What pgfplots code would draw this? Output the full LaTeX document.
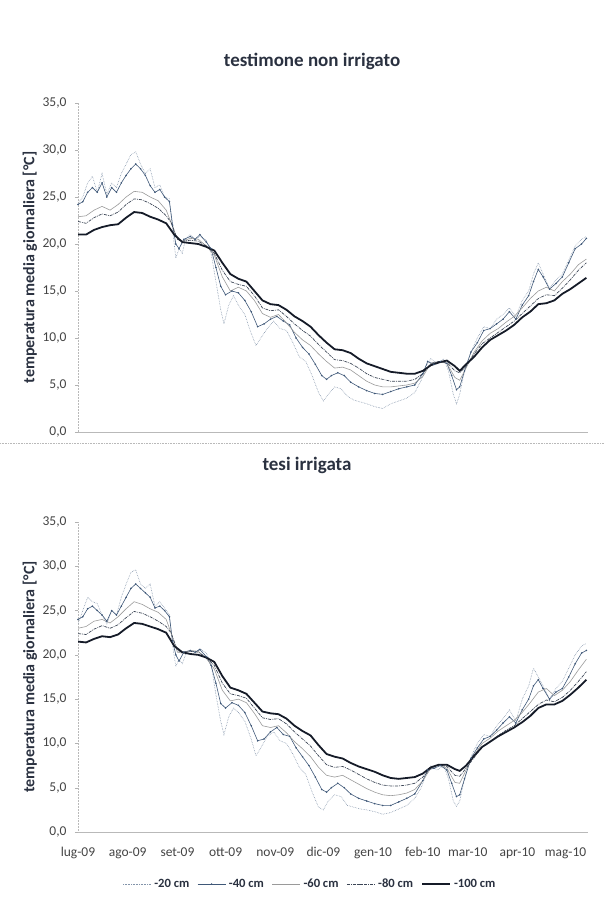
\documentclass[border=0pt]{standalone}
\usepackage{fontspec}
\setmainfont{Carlito}
\usepackage{pgfplots}
\usepackage{pgfplotstable}
\pgfplotsset{compat=1.18}
\definecolor{cA}{HTML}{8394AA}
\definecolor{cB}{HTML}{3F5878}
\definecolor{cC}{HTML}{9A9A9A}
\definecolor{cD}{HTML}{3C4656}
\definecolor{cE}{HTML}{151B28}
\definecolor{txt}{HTML}{2A3140}
\definecolor{tick}{HTML}{444444}

% ---------- testimone non irrigato ----------
\pgfplotstableread{
d v
0 24.3
3 25.0
6 26.5
9 27.2
12 25.5
15 27.5
18 25.3
21 26.5
24 26.0
27 27.5
30 28.5
33 29.5
36 29.8
39 28.5
42 27.5
45 28.0
48 26.0
51 26.3
54 25.0
57 24.8
59 21.5
61 18.5
63 19.5
65 19.0
67 20.5
70 21.0
73 20.5
76 20.8
80 20.4
83 19.0
86 16.0
89 13.0
91 11.5
94 13.5
97 14.5
100 13.5
104 12.5
108 10.5
111 9.2
114 10.0
118 11.0
122 11.8
126 11.0
130 10.8
134 9.5
138 8.0
142 7.5
146 6.0
150 4.2
153 3.3
156 4.0
160 4.8
164 4.6
168 3.8
172 3.4
176 3.2
180 3.0
185 2.7
190 2.5
195 3.0
200 3.3
205 3.6
210 4.2
214 5.5
217 7.0
220 7.8
224 7.2
228 7.8
231 6.5
234 4.0
236 3.0
238 4.0
241 6.5
245 8.5
249 10.0
253 11.2
257 11.0
261 12.0
265 12.5
269 13.2
273 12.3
277 14.0
281 15.0
284 16.8
287 18.0
290 16.8
294 15.3
298 16.2
302 16.8
306 18.3
310 19.8
314 20.5
317 20.8
}\tA
\pgfplotstableread{
d v
0 24.2
3 24.5
6 25.5
9 26.0
12 25.5
15 26.5
18 25.0
21 26.0
24 25.5
27 26.5
30 27.3
33 28.0
36 28.5
39 28.0
42 27.3
45 26.2
48 25.5
51 25.8
54 25.0
57 24.5
59 22.0
61 20.0
63 19.5
66 20.5
70 20.8
73 20.5
76 21.0
80 20.2
83 19.5
86 17.5
89 15.5
92 14.6
96 15.0
100 14.8
104 14.0
108 12.8
112 11.2
116 11.5
120 12.0
124 12.3
128 11.8
132 11.4
136 10.0
140 9.0
144 8.3
148 7.2
152 6.0
155 5.6
158 6.0
162 6.3
166 6.0
170 5.3
175 4.8
180 4.4
185 4.1
190 4.0
195 4.3
200 4.6
205 4.8
210 5.0
215 6.2
218 7.5
222 7.2
226 7.5
230 7.3
233 6.0
236 4.5
238 4.8
241 6.5
245 8.5
249 9.5
253 10.8
257 11.0
261 11.5
265 12.0
269 12.8
273 12.0
277 13.5
281 14.5
284 16.0
287 17.3
290 16.5
294 15.2
298 15.8
302 16.5
306 18.0
310 19.5
314 20.0
317 20.6
}\tB
\pgfplotstableread{
d v
0 22.9
5 23.0
10 23.6
15 24.0
20 23.6
25 24.2
30 25.0
35 25.6
40 25.5
45 25.0
50 24.6
55 23.6
58 22.3
62 20.5
65 20.3
70 20.6
75 20.5
80 19.8
85 18.8
90 16.5
95 15.0
100 15.4
105 15.0
110 14.0
115 12.6
120 12.2
125 12.5
130 11.6
135 10.6
140 9.8
145 9.2
150 8.3
155 7.5
160 6.8
165 6.9
170 6.6
175 6.0
180 5.4
185 5.0
190 4.8
195 4.8
200 4.9
205 5.0
210 5.2
215 5.9
220 7.3
225 7.5
230 7.3
235 5.8
238 5.5
242 6.8
247 8.5
252 9.7
257 10.5
262 11.0
267 11.7
272 12.3
277 13.2
282 14.2
287 15.0
292 15.4
297 15.0
302 16.0
307 16.8
312 17.8
317 18.4
}\tC
\pgfplotstableread{
d v
0 22.4
5 22.2
10 22.8
15 23.2
20 23.0
25 23.4
30 24.2
35 24.8
40 24.7
45 24.3
50 23.8
55 23.0
58 22.3
62 20.5
65 20.3
70 20.4
75 20.3
80 19.8
85 19.0
90 17.2
95 16.0
100 15.7
105 15.5
110 14.5
115 13.2
120 12.9
125 13.0
130 12.3
135 11.5
140 10.8
145 10.2
150 9.3
155 8.5
160 7.7
165 7.6
170 7.3
175 6.8
180 6.2
185 5.8
190 5.6
195 5.4
200 5.4
205 5.4
210 5.6
215 6.2
220 7.3
225 7.5
230 7.4
235 6.5
238 6.3
242 7.0
247 8.3
252 9.4
257 10.0
262 10.6
267 11.2
272 11.8
277 12.6
282 13.4
287 14.2
292 14.6
297 14.5
302 15.3
307 16.2
312 17.2
317 18.0
}\tD
\pgfplotstableread{
d v
0 21.0
5 21.0
10 21.5
15 21.8
20 22.0
25 22.1
30 22.8
35 23.4
40 23.3
45 22.9
50 22.6
55 22.2
60 21.0
65 20.2
70 20.1
75 20.0
80 19.7
85 19.3
90 18.0
95 16.8
100 16.3
105 16.0
110 15.0
115 14.0
120 13.6
125 13.5
130 13.0
135 12.3
140 11.8
145 11.2
150 10.3
155 9.5
160 8.8
165 8.7
170 8.4
175 7.8
180 7.3
185 7.0
190 6.7
195 6.4
200 6.3
205 6.2
210 6.2
215 6.5
220 7.1
225 7.4
230 7.6
235 7.0
238 6.5
242 7.2
247 8.0
252 9.0
257 9.8
262 10.3
267 10.8
272 11.4
277 12.2
282 12.8
287 13.6
292 13.7
297 14.0
302 14.7
307 15.2
312 15.8
317 16.4
}\tE

% ---------- tesi irrigata ----------
\pgfplotstableread{
d v
0 23.5
3 25.0
6 26.5
9 26.0
12 25.8
15 24.5
18 23.5
21 25.0
24 24.5
27 26.5
30 28.0
33 29.3
36 29.6
39 28.0
42 27.5
45 28.0
48 25.5
51 26.0
54 25.3
57 24.5
59 21.0
61 18.7
63 19.5
65 19.0
67 20.0
70 20.5
73 20.3
76 20.7
80 20.2
83 19.0
86 15.5
89 12.5
91 11.0
94 13.0
97 14.0
100 13.5
104 12.5
108 10.5
111 8.6
114 9.5
118 10.8
122 11.3
126 10.3
130 10.0
134 8.8
138 7.3
142 6.5
146 4.5
150 2.8
153 2.5
156 3.5
160 4.2
164 4.0
168 3.0
172 2.8
176 2.6
180 2.5
185 2.3
190 2.0
195 2.2
200 2.6
205 3.0
210 3.8
214 5.0
217 6.5
220 7.5
224 7.0
228 7.5
231 6.0
234 3.5
236 2.9
238 3.5
241 6.0
245 8.5
249 10.0
253 11.0
257 10.8
261 12.0
265 12.8
269 13.8
273 12.5
277 15.0
281 16.5
284 18.5
287 17.5
290 16.5
294 15.0
298 16.2
302 17.0
306 18.5
310 20.0
314 21.0
317 21.3
}\uA
\pgfplotstableread{
d v
0 24.0
3 24.3
6 25.2
9 25.5
12 25.0
15 24.5
18 23.8
21 25.0
24 24.5
27 25.5
30 26.5
33 27.5
36 28.0
39 27.5
42 27.0
45 26.5
48 25.3
51 25.5
54 25.0
57 24.3
59 21.5
61 20.0
63 19.3
66 20.3
70 20.5
73 20.3
76 20.6
80 19.8
83 18.8
86 16.8
89 14.5
92 14.0
96 14.6
100 14.3
104 13.5
108 12.0
112 10.3
116 10.5
120 11.3
124 11.8
128 11.0
132 10.8
136 9.5
140 8.5
144 7.5
148 6.2
152 4.8
155 4.5
158 5.0
162 5.5
166 5.0
170 4.3
175 3.8
180 3.5
185 3.2
190 3.0
195 3.0
200 3.4
205 3.8
210 4.3
215 5.8
218 7.0
222 7.2
226 7.5
230 7.0
233 5.5
236 4.0
238 4.2
241 6.0
245 8.3
249 9.5
253 10.5
257 10.8
261 11.5
265 12.3
269 13.0
273 12.3
277 13.8
281 15.0
284 16.5
287 17.2
290 16.2
294 15.0
298 15.8
302 16.2
306 17.5
310 19.0
314 20.2
317 20.5
}\uB
\pgfplotstableread{
d v
0 23.0
5 23.2
10 23.8
15 24.0
20 23.6
25 24.3
30 25.2
35 26.0
40 25.7
45 25.2
50 24.8
55 24.0
58 22.5
62 20.3
65 20.2
70 20.5
75 20.4
80 19.6
85 18.4
90 16.0
95 14.8
100 15.0
105 14.6
110 13.4
115 12.0
120 11.8
125 12.0
130 11.2
135 10.2
140 9.4
145 8.5
150 7.3
155 6.4
160 6.2
165 6.4
170 5.9
175 5.4
180 4.9
185 4.5
190 4.2
195 4.1
200 4.2
205 4.4
210 4.8
215 5.8
220 7.2
225 7.6
230 7.2
235 5.6
238 5.5
242 7.0
247 8.7
252 10.0
257 10.6
262 11.4
267 12.0
272 12.6
277 13.5
282 14.6
287 15.8
292 16.2
297 15.4
302 16.0
307 17.0
312 18.3
317 19.5
}\uC
\pgfplotstableread{
d v
0 22.4
5 22.3
10 22.9
15 23.3
20 23.0
25 23.4
30 24.2
35 24.9
40 24.7
45 24.3
50 23.8
55 23.2
58 22.5
62 20.5
65 20.3
70 20.4
75 20.3
80 19.7
85 18.8
90 16.8
95 15.6
100 15.4
105 15.1
110 14.0
115 12.9
120 12.7
125 12.8
130 12.2
135 11.3
140 10.5
145 9.7
150 8.6
155 7.6
160 7.3
165 7.4
170 7.0
175 6.5
180 6.0
185 5.6
190 5.3
195 5.2
200 5.2
205 5.3
210 5.5
215 6.2
220 7.2
225 7.6
230 7.4
235 6.4
238 6.3
242 7.2
247 8.4
252 9.6
257 10.2
262 10.9
267 11.5
272 12.0
277 12.8
282 13.6
287 14.4
292 14.9
297 14.7
302 15.2
307 16.0
312 17.0
317 18.1
}\uD
\pgfplotstableread{
d v
0 21.5
5 21.4
10 21.8
15 22.1
20 22.0
25 22.3
30 23.0
35 23.6
40 23.5
45 23.2
50 22.9
55 22.5
60 21.0
65 20.3
70 20.1
75 20.0
80 19.7
85 19.2
90 17.6
95 16.3
100 16.0
105 15.6
110 14.6
115 13.6
120 13.4
125 13.3
130 12.8
135 12.0
140 11.4
145 10.9
150 9.8
155 8.8
160 8.5
165 8.3
170 7.8
175 7.4
180 7.1
185 6.8
190 6.4
195 6.1
200 6.0
205 6.1
210 6.2
215 6.6
220 7.3
225 7.6
230 7.6
235 7.1
238 6.9
242 7.5
247 8.6
252 9.6
257 10.2
262 10.8
267 11.3
272 11.8
277 12.4
282 13.1
287 14.0
292 14.4
297 14.4
302 14.8
307 15.5
312 16.3
317 17.2
}\uE

\pgfplotsset{
  base/.style={
    scale only axis,
    width=510pt,
    xmin=0, xmax=318, ymin=0, ymax=35,
    axis x line=bottom, axis y line=left,
    axis line style={draw=gray!55, line width=0.5pt, -},
    y axis line style={densely dotted},
    ytick={0,5,...,35},
    yticklabel style={xshift=-5pt, /pgf/number format/fixed, /pgf/number format/fixed zerofill, /pgf/number format/precision=1, /pgf/number format/use comma},
    /pgf/number format/assume math mode=true,
    ytick style={draw=gray!60},
    xtick style={draw=none},
    tick align=outside,
    major tick length=3pt,
    tick label style={font=\fontsize{13.5}{16}\selectfont, text=tick},
    xticklabel style={yshift=-9pt},
    ylabel={temperatura media giornaliera [°C]},
    ylabel style={at={(rel axis cs:0,0.5)}, anchor=center, yshift=48pt, font=\bfseries\fontsize{16}{19}\selectfont, text=txt},
    title style={font=\bfseries\fontsize{19}{23}\selectfont, text=txt, anchor=center},
    legend image code/.code={\draw[mark repeat=2,mark phase=2,##1] plot coordinates {(0pt,0pt) (14pt,0pt) (28pt,0pt)};},
  },
  sA/.style={cA, line width=0.6pt, densely dotted},
  sB/.style={cB, line width=0.6pt, mark=*, mark size=0.45pt, mark options={solid}},
  sC/.style={cC, line width=0.6pt},
  sD/.style={cD, line width=0.7pt, dash pattern=on 3pt off 1pt on 0.8pt off 1pt},
  sE/.style={cE, line width=1.8pt},
}

\begin{document}
\begin{tikzpicture}
\useasboundingbox (0,0) rectangle (605pt,911pt);
\draw[gray!55, densely dotted, line width=0.6pt] (0pt,468pt) -- (605pt,468pt);

\begin{axis}[base, at={(78pt,479pt)}, anchor=south west, height=329pt,
  xtick={0,31,62,92,123,153,184,215,243,274,304}, xticklabels={},
  title={testimone non irrigato},
  title style={at={(0.459,1)}, yshift=36pt}]
\addplot[sA] table[x=d,y=v]{\tA};
\addplot[sB] table[x=d,y=v]{\tB};
\addplot[sC] table[x=d,y=v]{\tC};
\addplot[sD] table[x=d,y=v]{\tD};
\addplot[sE] table[x=d,y=v]{\tE};
\end{axis}

\begin{axis}[base, at={(78pt,79pt)}, anchor=south west, height=310pt,
  xtick={0,31,62,92,123,153,184,215,243,274,304},
  xticklabels={lug-09,ago-09,set-09,ott-09,nov-09,dic-09,gen-10,feb-10,mar-10,apr-10,mag-10},
  title={tesi irrigata},
  title style={at={(0.449,1)}, yshift=51pt},
  legend columns=5,
  legend style={at={(0.455,-0.168)}, anchor=center, draw=none, fill=none,
    font=\bfseries\fontsize{12.6}{14}\selectfont, text=txt,
    /tikz/every even column/.append style={column sep=6pt},
    /tikz/every odd column/.append style={column sep=1pt}},
  ]
\addplot[sA] table[x=d,y=v]{\uA};
\addplot[sB] table[x=d,y=v]{\uB};
\addplot[sC] table[x=d,y=v]{\uC};
\addplot[sD] table[x=d,y=v]{\uD};
\addplot[sE] table[x=d,y=v]{\uE};
\legend{-20 cm,-40 cm,-60 cm,-80 cm,-100 cm}
\end{axis}
\end{tikzpicture}
\end{document}
